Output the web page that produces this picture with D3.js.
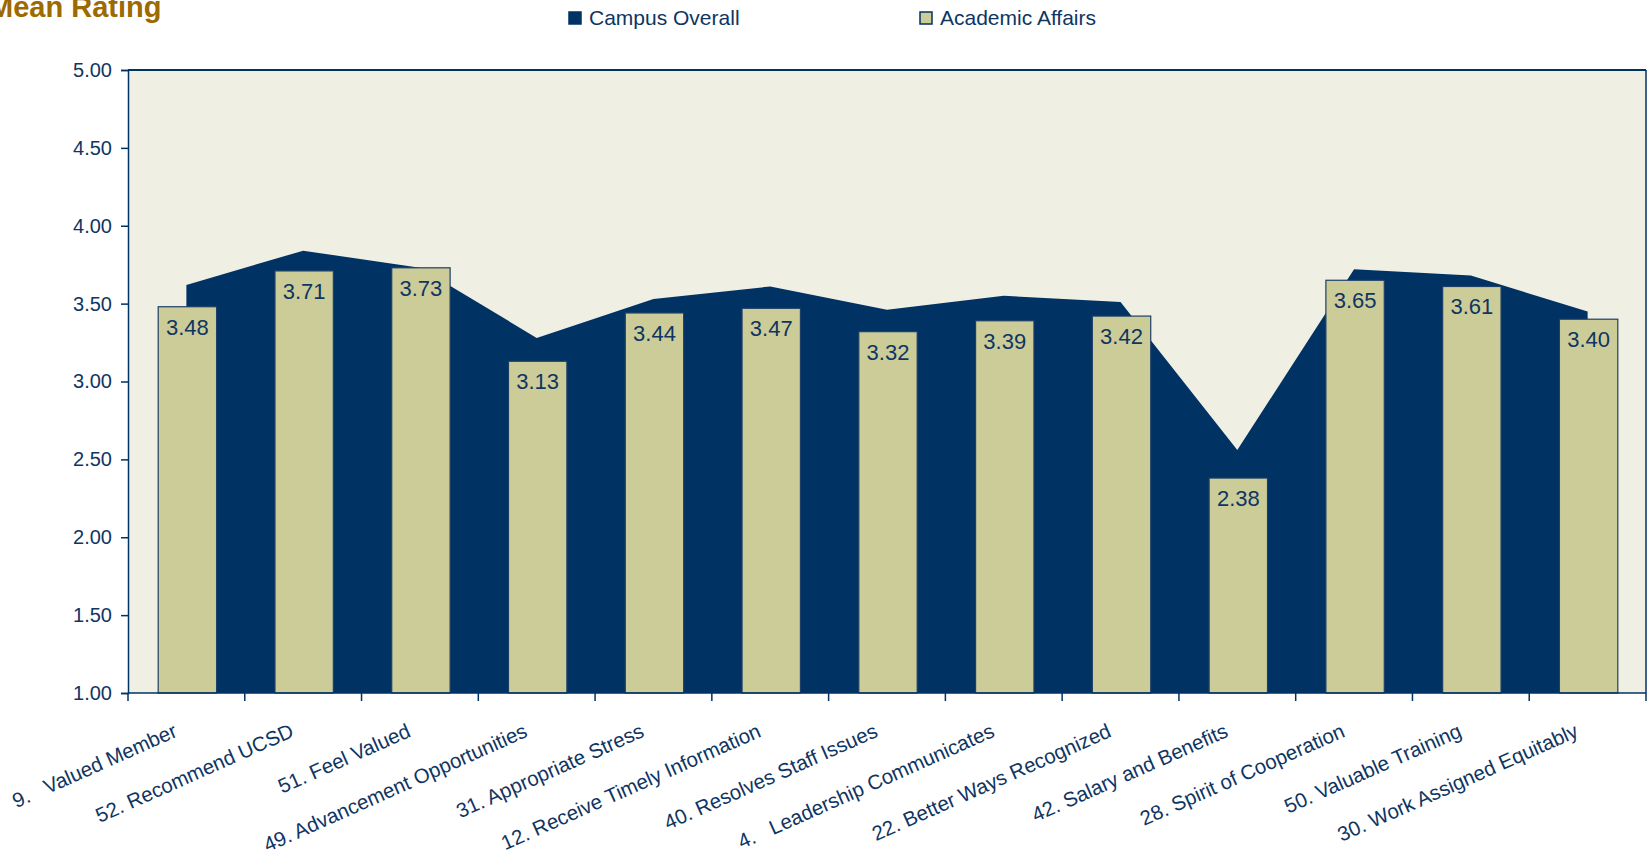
<!DOCTYPE html>
<html>
<head>
<meta charset="utf-8">
<script src="https://cdn.jsdelivr.net/npm/d3@7"></script>
<style>
	body { margin: 0; background: #fff; }
	svg { display: block; font-family: 'Liberation Sans', Arial, sans-serif; }
</style>
</head>
<body>
<svg id="chart" width="1648" height="852"></svg>
<script>
const categories = [
	'9.   Valued Member',
	'52. Recommend UCSD',
	'51. Feel Valued',
	'49. Advancement Opportunities',
	'31. Appropriate Stress',
	'12. Receive Timely Information',
	'40. Resolves Staff Issues',
	'4.   Leadership Communicates',
	'22. Better Ways Recognized',
	'42. Salary and Benefits',
	'28. Spirit of Cooperation',
	'50. Valuable Training',
	'30. Work Assigned Equitably'
];
const campusOverall = [3.62, 3.84, 3.73, 3.28, 3.53, 3.61, 3.46, 3.55, 3.51, 2.56, 3.72, 3.68, 3.45];
const academicAffairs = [3.48, 3.71, 3.73, 3.13, 3.44, 3.47, 3.32, 3.39, 3.42, 2.38, 3.65, 3.61, 3.40];
const yTicks = [1, 1.5, 2, 2.5, 3, 3.5, 4, 4.5, 5];
const seriesNames = ['Campus Overall', 'Academic Affairs'];

const NAVY = '#003263';
const TEXT = '#0f3562';
const KHAKI = '#cccc99';
const BG = '#f0efe4';
const GOLD = '#9c6a00';

const width = 1648;
const height = 852;
const margin = { top: 70, right: 2, bottom: 159, left: 128 };

const $svg = d3.select('#chart');

const x = d3.scaleBand()
	.domain(categories)
	.range([margin.left, width - margin.right])
	.padding(0);
const y = d3.scaleLinear()
	.domain([1, 5])
	.range([height - margin.bottom, margin.top]);

const cx = d => x(d) + x.bandwidth() / 2;
const barW = x.bandwidth() * 0.5;

// plot background
$svg.append('rect')
	.attr('x', margin.left)
	.attr('y', margin.top)
	.attr('width', width - margin.right - margin.left)
	.attr('height', y(1) - y(5))
	.attr('fill', BG);

// campus overall area
const rows = categories.map((c, i) => ({ c, campus: campusOverall[i], aa: academicAffairs[i] }));
const area = d3.area()
	.x(d => cx(d.c))
	.y0(y(1))
	.y1(d => y(d.campus));
$svg.append('path')
	.datum(rows)
	.attr('d', area)
	.attr('fill', NAVY);

// academic affairs bars
$svg.append('g')
	.selectAll('rect')
	.data(rows)
	.join('rect')
	.attr('x', d => cx(d.c) - barW / 2 + 1)
	.attr('y', d => y(d.aa))
	.attr('width', barW)
	.attr('height', d => y(1) - y(d.aa))
	.attr('fill', KHAKI)
	.attr('stroke', '#1e3f68')
	.attr('stroke-width', 1.2);

$svg.append('g')
	.selectAll('text')
	.data(rows)
	.join('text')
	.attr('x', d => cx(d.c) + 1)
	.attr('y', d => y(d.aa) + 28)
	.attr('text-anchor', 'middle')
	.attr('font-size', 22)
	.attr('fill', TEXT)
	.text(d => d.aa.toFixed(2));

// frame
$svg.append('line')
	.attr('x1', margin.left).attr('x2', width - margin.right)
	.attr('y1', y(5)).attr('y2', y(5))
	.attr('stroke', NAVY).attr('stroke-width', 2);
$svg.append('line')
	.attr('x1', width - margin.right).attr('x2', width - margin.right)
	.attr('y1', y(5)).attr('y2', y(1))
	.attr('stroke', NAVY).attr('stroke-width', 1.5);

// y axis
const yAxis = d3.axisLeft(y)
	.tickValues(yTicks)
	.tickFormat(d3.format('.2f'))
	.tickSize(7)
	.tickPadding(9);
const $yAxis = $svg.append('g')
	.attr('transform', `translate(${margin.left},0)`)
	.call(yAxis);
$yAxis.select('.domain').attr('stroke', NAVY).attr('stroke-width', 1.5);
$yAxis.selectAll('.tick line').attr('stroke', NAVY).attr('stroke-width', 1.5);
$yAxis.selectAll('.tick text')
	.attr('font-size', 20)
	.attr('fill', TEXT)
	.attr('font-family', null);

// x axis: ticks on band edges
const edges = categories.map(c => x(c)).concat([width - margin.right]);
$svg.append('line')
	.attr('x1', margin.left).attr('x2', width - margin.right)
	.attr('y1', y(1)).attr('y2', y(1))
	.attr('stroke', NAVY).attr('stroke-width', 1.5);
$svg.append('g')
	.selectAll('line')
	.data(edges)
	.join('line')
	.attr('x1', d => d).attr('x2', d => d)
	.attr('y1', y(1)).attr('y2', y(1) + 8)
	.attr('stroke', NAVY).attr('stroke-width', 1.5);

$svg.append('g')
	.selectAll('text')
	.data(categories)
	.join('text')
	.attr('transform', d => `translate(${cx(d) - 8},${y(1) + 43}) rotate(-24)`)
	.attr('text-anchor', 'end')
	.attr('font-size', 20.5)
	.attr('fill', TEXT)
	.attr('xml:space', 'preserve')
	.style('white-space', 'pre')
	.text(d => d);

// title
$svg.append('text')
	.attr('x', -11)
	.attr('y', 17)
	.attr('font-size', 29)
	.attr('font-weight', 'bold')
	.attr('fill', GOLD)
	.text('Mean Rating');

// legend
const legendX = [569, 920];
const legendFill = [NAVY, KHAKI];
const $legend = $svg.append('g')
	.selectAll('g')
	.data(seriesNames)
	.join('g')
	.attr('transform', (d, i) => `translate(${legendX[i]},12)`);
$legend.append('rect')
	.attr('width', 12).attr('height', 12)
	.attr('fill', (d, i) => legendFill[i])
	.attr('stroke', NAVY)
	.attr('stroke-width', 1.5);
$legend.append('text')
	.attr('x', 20)
	.attr('y', 13)
	.attr('font-size', 21)
	.attr('fill', TEXT)
	.text(d => d);
</script>
</body>
</html>
